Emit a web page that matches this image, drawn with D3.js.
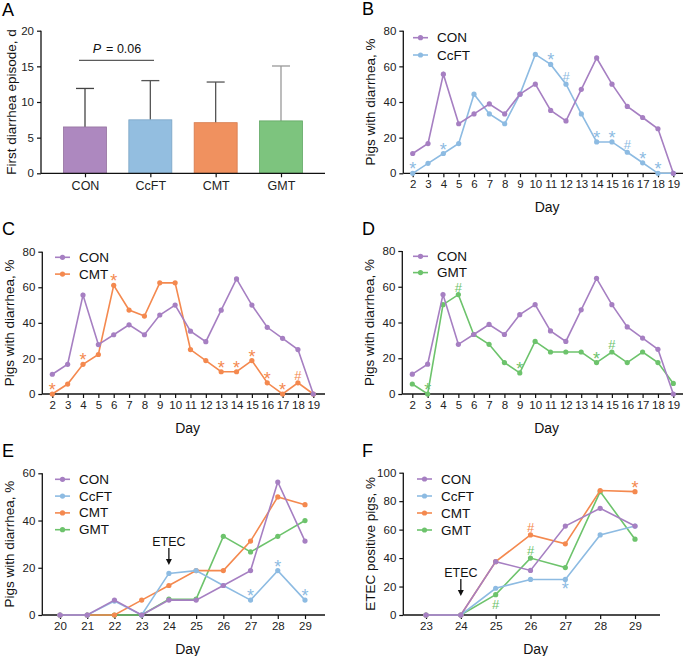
<!DOCTYPE html>
<html><head><meta charset="utf-8">
<script src="https://cdn.jsdelivr.net/npm/d3@7"></script>
<style>body{margin:0;background:#fff}text{font-family:Arial,"Liberation Sans",sans-serif}</style>
</head><body><svg id="c" width="685" height="656"></svg>
<script>
// ---------- DATA ----------
const groups = ["CON", "CcFT", "CMT", "GMT"];
const firstEpisodeMean = [6.5, 7.5, 7.1, 7.35];
const firstEpisodeSD = [5.4, 5.5, 5.7, 7.7];
const aTicks = [0, 5, 10, 15, 20];

const daysBD = [2, 3, 4, 5, 6, 7, 8, 9, 10, 11, 12, 13, 14, 15, 16, 17, 18, 19];
const conBD  = [11.1, 16.7, 55.6, 27.8, 33.3, 38.9, 33.3, 44.4, 50, 35.3, 29.4, 47.1, 64.7, 50, 37.5, 31.3, 25, 0];
const ccftBD = [0, 5.6, 11.1, 16.7, 44.4, 33.3, 27.8, 44.4, 66.7, 61.1, 50, 33.3, 17.6, 17.6, 11.8, 5.9, 0, 0];
const cmtBD  = [0, 5.6, 16.7, 22.2, 61.1, 47.2, 43.8, 62.5, 62.5, 25, 18.8, 12.5, 12.5, 18.8, 6.3, 0, 6.3, 0];
const gmtBD  = [5.6, 0, 50, 55.6, 33.3, 27.8, 17.6, 11.8, 29.4, 23.5, 23.5, 23.5, 17.6, 23.5, 17.6, 23.5, 17.6, 5.9];
const bdTicks = [0, 20, 40, 60, 80];

const ccftMarksB = [{d:2,s:"*"},{d:4,s:"*"},{d:11,s:"*"},{d:12,s:"#"},{d:14,s:"*"},{d:15,s:"*"},{d:16,s:"#"},{d:17,s:"*"},{d:18,s:"*"}];
const cmtMarksC  = [{d:2,s:"*"},{d:4,s:"*"},{d:6,s:"*"},{d:13,s:"*"},{d:14,s:"*"},{d:15,s:"*"},{d:16,s:"*"},{d:17,s:"*"},{d:18,s:"#"}];
const gmtMarksD  = [{d:3,s:"*"},{d:5,s:"#"},{d:9,s:"*"},{d:14,s:"*"},{d:15,s:"#"}];

const daysE = [20, 21, 22, 23, 24, 25, 26, 27, 28, 29];
const conE  = [0, 0, 6.3, 0, 6.3, 6.3, 12.5, 18.8, 56.3, 31.3];
const ccftE = [0, 0, 5.9, 0, 17.6, 18.8, 12.5, 6.3, 18.8, 6.3];
const cmtE  = [0, 0, 0, 6.3, 12.5, 18.8, 18.8, 31.3, 50, 46.7];
const gmtE  = [0, 0, 0, 0, 6.7, 6.7, 33.3, 26.7, 33.3, 40];
const eTicks = [0, 20, 40, 60];
const ccftMarksE = [{d:27,s:"*"},{d:28,s:"*"},{d:29,s:"*"}];

const daysF = [23, 24, 25, 26, 27, 28, 29];
const conF  = [0, 0, 37.5, 31.3, 62.5, 75, 62.5];
const ccftF = [0, 0, 18.8, 25, 25, 56.3, 62.5];
const cmtF  = [0, 0, 37.5, 56.3, 50, 87.5, 86.7];
const gmtF  = [0, 0, 14.3, 40, 33.3, 86.7, 53.3];
const fTicks = [0, 20, 40, 60, 80, 100];
const cmtMarksF  = [{d:26,s:"#"},{d:29,s:"*"}];
const gmtMarksF  = [{d:25,s:"#",below:true},{d:26,s:"#"}];
const ccftMarksF = [{d:27,s:"*",below:true}];

// ---------- STYLE ----------
const lineCol = {CON:"#A67FC2", CcFT:"#8DBBE2", CMT:"#F4894F", GMT:"#6DC36C"};
const barFill = ["#AD88BF", "#93BEE0", "#F0915F", "#7DC47E"];
const barStroke = ["#94729f", "#7aa4c4", "#d67a4c", "#62a865"];
const errCol = ["#444", "#555", "#555", "#999"];

const svg = d3.select("#c");
const AX = "#111";

function panelLabel(t, x, y) {
  svg.append("text").attr("x", x).attr("y", y).attr("font-size", 18).attr("fill", "#000").text(t);
}
function yTitle(t, x, yc) {
  svg.append("text").attr("transform", `translate(${x},${yc}) rotate(-90)`)
    .attr("text-anchor", "middle").attr("dominant-baseline", "central").attr("font-size", 13.5).attr("fill", "#111").text(t);
}
function styleAxis(g) {
  g.select(".domain").remove();
  g.selectAll(".tick line").attr("stroke", AX).attr("stroke-width", 1.2);
  g.selectAll(".tick text").attr("font-size", 11.5).attr("fill", "#222")
    .style("font-family", "Arial, 'Liberation Sans', sans-serif");
}

// ---------- PANEL A ----------
(function () {
  const ax = 41, axEnd = 325;
  const y = d3.scaleLinear().domain([0, 20]).range([173.3, 30.7]);
  const x = d3.scalePoint().domain(groups).range([85, 281]);
  const bw = 43;
  groups.forEach((g, i) => {
    const cx = x(g);
    const top = y(firstEpisodeMean[i] + firstEpisodeSD[i]);
    svg.append("line").attr("x1", cx).attr("x2", cx).attr("y1", y(firstEpisodeMean[i])).attr("y2", top)
      .attr("stroke", errCol[i]).attr("stroke-width", 1.3);
    svg.append("line").attr("x1", cx - 9).attr("x2", cx + 9).attr("y1", top).attr("y2", top)
      .attr("stroke", errCol[i]).attr("stroke-width", 1.3);
    svg.append("rect").attr("x", cx - bw / 2).attr("width", bw).attr("y", y(firstEpisodeMean[i])).attr("height", y(0) - y(firstEpisodeMean[i]))
      .attr("fill", barFill[i]).attr("stroke", barStroke[i]).attr("stroke-width", 0.8);
  });
  const ya = svg.append("g").attr("transform", `translate(${ax},0)`).call(d3.axisLeft(y).tickValues(aTicks).tickSize(4).tickPadding(3));
  styleAxis(ya);
  svg.append("line").attr("x1", ax).attr("x2", ax).attr("y1", y(0)).attr("y2", y(20)).attr("stroke", AX).attr("stroke-width", 1.3);
  const xa = svg.append("g").attr("transform", `translate(0,${y(0)})`).call(d3.axisBottom(x).tickSize(4).tickPadding(4));
  styleAxis(xa);
  xa.selectAll(".tick text").attr("font-size", 12.5);
  svg.append("line").attr("x1", ax).attr("x2", axEnd).attr("y1", y(0)).attr("y2", y(0)).attr("stroke", AX).attr("stroke-width", 1.3);
  // significance
  svg.append("line").attr("x1", 79).attr("x2", 154).attr("y1", 60.3).attr("y2", 60.3).attr("stroke", "#333").attr("stroke-width", 1);
  const t = svg.append("text").attr("x", 117).attr("y", 53).attr("text-anchor", "middle").attr("font-size", 12.5).attr("fill", "#111");
  t.append("tspan").attr("font-style", "italic").text("P");
  t.append("tspan").attr("dx", 5).text("= 0.06");
  yTitle("First diarrhea episode, d", 11, 102);
  panelLabel("A", 2, 16);
})();

// ---------- LINE PANELS ----------
function linePanel(o) {
  const x = d3.scaleLinear().domain([o.days[0], o.days[o.days.length - 1]]).range([o.x0, o.x1]);
  const y = d3.scaleLinear().domain([0, o.yMax]).range([o.yb, o.yt]);
  const ya = svg.append("g").attr("transform", `translate(${o.ax},0)`).call(d3.axisLeft(y).tickValues(o.yTicks).tickSize(4).tickPadding(3));
  styleAxis(ya);
  svg.append("line").attr("x1", o.ax).attr("x2", o.ax).attr("y1", o.yb).attr("y2", o.yt).attr("stroke", AX).attr("stroke-width", 1.3);
  const xa = svg.append("g").attr("transform", `translate(0,${o.yb})`).call(d3.axisBottom(x).tickValues(o.days).tickFormat(d3.format("d")).tickSize(4).tickPadding(3));
  styleAxis(xa);
  svg.append("line").attr("x1", o.ax).attr("x2", o.axEnd).attr("y1", o.yb).attr("y2", o.yb).attr("stroke", AX).attr("stroke-width", 1.3);
  svg.append("text").attr("x", (o.ax + o.axEnd) / 2 + 4).attr("y", o.yb + 39).attr("text-anchor", "middle").attr("font-size", 14).attr("fill", "#111").text("Day");
  yTitle(o.title, o.ax - 33, (o.yb + o.yt) / 2);

  const line = d3.line().x((d, i) => x(o.days[i])).y(d => y(d));
  o.series.slice().reverse().forEach(s => {
    const c = lineCol[s.name];
    svg.append("path").attr("d", line(s.values)).attr("fill", "none").attr("stroke", c).attr("stroke-width", 1.6);
    svg.selectAll(null).data(s.values).enter().append("circle")
      .attr("cx", (d, i) => x(o.days[i])).attr("cy", d => y(d)).attr("r", 2.6).attr("fill", c);
  });
  o.series.forEach(s => {
    (s.marks || []).forEach(m => {
      const v = s.values[o.days.indexOf(m.d)];
      const px = x(m.d), py = y(v);
      if (m.s === "*") {
        svg.append("text").attr("x", px).attr("y", m.below ? py + 16 : py + 2).attr("text-anchor", "middle")
          .attr("font-size", 18).attr("fill", lineCol[s.name]).text("*");
      } else {
        svg.append("text").attr("x", px).attr("y", m.below ? py + 14 : py - 3).attr("text-anchor", "middle")
          .attr("font-size", 13).attr("fill", lineCol[s.name]).text("#");
      }
    });
  });
  o.series.forEach((s, i) => {
    const ly = o.ly + i * o.lstep;
    const c = lineCol[s.name];
    svg.append("line").attr("x1", o.lx).attr("x2", o.lx + 15).attr("y1", ly).attr("y2", ly).attr("stroke", c).attr("stroke-width", 1.6);
    svg.append("circle").attr("cx", o.lx + 7.5).attr("cy", ly).attr("r", 2.6).attr("fill", c);
    svg.append("text").attr("x", o.lx + 24).attr("y", ly).attr("dominant-baseline", "central").attr("font-size", 13.5).attr("fill", "#111").text(s.name);
  });
  if (o.etec) {
    const ex = x(24);
    svg.append("text").attr("x", ex).attr("y", o.etec.ty).attr("text-anchor", "middle").attr("font-size", 12.5).attr("fill", "#111").text("ETEC");
    svg.append("line").attr("x1", ex).attr("x2", ex).attr("y1", o.etec.a0).attr("y2", o.etec.a1 - 5).attr("stroke", "#111").attr("stroke-width", 1.3);
    svg.append("path").attr("d", `M${ex - 3},${o.etec.a1 - 6} L${ex + 3},${o.etec.a1 - 6} L${ex},${o.etec.a1} Z`).attr("fill", "#111");
  }
}

linePanel({ days: daysBD, x0: 412.7, x1: 673.3, ax: 403.3, axEnd: 683, yb: 173.3, yt: 30.7, yMax: 80, yTicks: bdTicks,
  title: "Pigs with diarrhea, %", lx: 413, ly: 37.7, lstep: 17.3,
  series: [{ name: "CON", values: conBD }, { name: "CcFT", values: ccftBD, marks: ccftMarksB }] });
panelLabel("B", 362, 15);

linePanel({ days: daysBD, x0: 52.3, x1: 313.3, ax: 42.3, axEnd: 325, yb: 394, yt: 251.7, yMax: 80, yTicks: bdTicks,
  title: "Pigs with diarrhea, %", lx: 55, ly: 257.3, lstep: 16.8,
  series: [{ name: "CON", values: conBD }, { name: "CMT", values: cmtBD, marks: cmtMarksC }] });
panelLabel("C", 2, 235);

linePanel({ days: daysBD, x0: 412.3, x1: 673.3, ax: 402.3, axEnd: 683, yb: 394, yt: 251, yMax: 80, yTicks: bdTicks,
  title: "Pigs with diarrhea, %", lx: 413, ly: 256.3, lstep: 16.3,
  series: [{ name: "CON", values: conBD }, { name: "GMT", values: gmtBD, marks: gmtMarksD }] });
panelLabel("D", 362, 235);

linePanel({ days: daysE, x0: 60, x1: 305, ax: 42.3, axEnd: 325, yb: 615, yt: 473.3, yMax: 60, yTicks: eTicks,
  title: "Pigs with diarrhea, %", lx: 55, ly: 479.3, lstep: 16.8,
  etec: { ty: 546, a0: 548, a1: 565 },
  series: [{ name: "CON", values: conE }, { name: "CcFT", values: ccftE, marks: ccftMarksE },
           { name: "CMT", values: cmtE }, { name: "GMT", values: gmtE }] });
panelLabel("E", 2, 457);

linePanel({ days: daysF, x0: 426, x1: 635, ax: 403.3, axEnd: 660, yb: 615, yt: 472.7, yMax: 100, yTicks: fTicks,
  title: "ETEC positive pigs, %", lx: 417, ly: 479, lstep: 17,
  etec: { ty: 577, a0: 579, a1: 596 },
  series: [{ name: "CON", values: conF }, { name: "CcFT", values: ccftF, marks: ccftMarksF },
           { name: "CMT", values: cmtF, marks: cmtMarksF }, { name: "GMT", values: gmtF, marks: gmtMarksF }] });
panelLabel("F", 362, 457);
</script></body></html>
